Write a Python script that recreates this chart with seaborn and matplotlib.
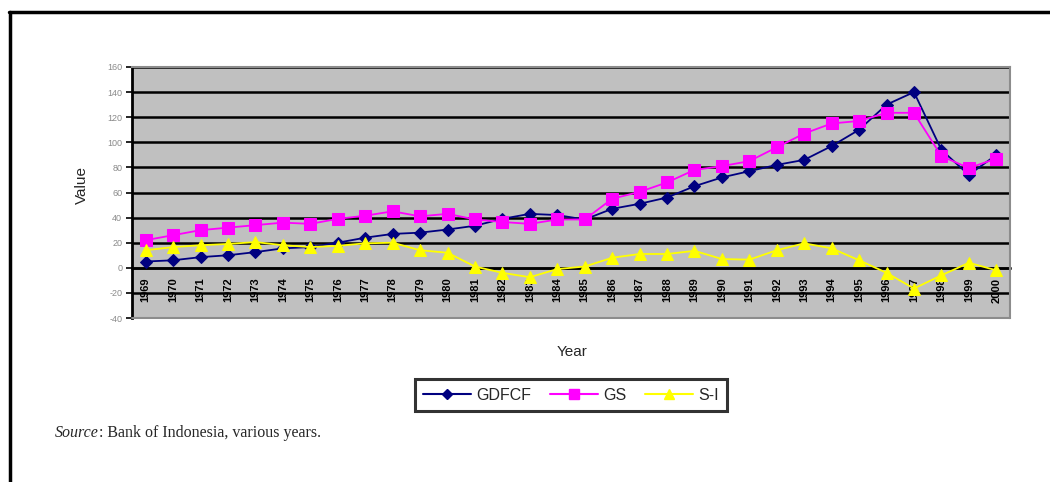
import matplotlib
matplotlib.use("Agg")
import matplotlib.pyplot as plt
from matplotlib.lines import Line2D
import numpy as np
import pandas as pd
import seaborn as sns

years = [str(y) for y in range(1969, 2001)]
gdfcf = [5, 6, 8.5, 10, 12.5, 15.5, 16.5, 20, 24, 27, 28, 30.5, 33.5, 39, 43, 42,
         38.5, 47, 51, 56, 65, 72, 77, 82, 86, 97, 110, 130, 140, 94, 74, 90]
gs = [22, 26, 30, 32, 34, 36, 35, 39, 41.5, 45, 41, 43, 38.5, 36.5, 35, 38.5,
      38.5, 55, 60.5, 68, 78, 81, 85, 96, 107, 115, 117, 123.5, 123.5, 89, 79.5, 87]
s_minus_i = [14, 16.5, 18, 19, 20.5, 18, 16.5, 17.5, 19.5, 20, 14, 12, 1, -4, -7.5, -1,
             1, 8, 11, 11, 13.5, 7, 6.5, 14, 19.5, 15.5, 6, -4, -16.5, -6, 4, -2]
series_names = ["GDFCF", "GS", "S-I"]
y_ticks = list(range(-40, 161, 20))

sns.set_theme(style="white")
plt.rcParams["font.family"] = ["Liberation Sans", "DejaVu Sans"]

pos = np.arange(len(years))
df = pd.DataFrame({
    "pos": np.tile(pos, 3),
    "value": gdfcf + gs + s_minus_i,
    "series": np.repeat(series_names, len(years)),
})

colors = {"GDFCF": "#000080", "GS": "#FF00FF", "S-I": "#FFFF00"}
markers = {"GDFCF": "D", "GS": "s", "S-I": "^"}
sizes = {"GDFCF": 6.5, "GS": 9, "S-I": 9}

fig = plt.figure(figsize=(10.5, 4.82), dpi=100)
ax = fig.add_axes([132 / 1050, 1 - 318 / 482, 878 / 1050, 251 / 482])
ax.set_facecolor("#C0C0C0")

for name in series_names:
    sub = df[df["series"] == name]
    sns.lineplot(data=sub, x="pos", y="value", ax=ax, color=colors[name],
                 marker=markers[name], markersize=sizes[name],
                 markeredgecolor=colors[name], linewidth=1.3, label=name,
                 legend=False, zorder=3)

ax.set_xlim(-0.5, len(years) - 0.5)
ax.set_ylim(-40, 160)
ax.set_yticks(y_ticks)
ax.set_yticklabels([str(v) for v in y_ticks], fontsize=6.5, color="#8a8a8a")
ax.yaxis.grid(True, color="black", linewidth=1.8, zorder=1)
ax.set_axisbelow(True)

# category labels centred, boundary ticks on the zero line
ax.spines["bottom"].set_position(("data", 0))
ax.set_xticks(pos)
ax.set_xticklabels(years, rotation=90, fontsize=8, fontweight="bold", color="black",
                   fontstretch="condensed")
ax.set_xticks(np.arange(-0.5, len(years), 1.0), minor=True)
ax.tick_params(axis="x", which="major", length=0, pad=7)
ax.tick_params(axis="x", which="minor", length=4, width=1.2, color="black", direction="out")
ax.tick_params(axis="y", which="major", length=4, width=1.2, color="black",
               direction="out", left=True, pad=3)
ax.spines["bottom"].set_color("black")
ax.spines["bottom"].set_linewidth(1.8)
ax.spines["bottom"].set_zorder(2)
ax.spines["left"].set_color("black")
ax.spines["left"].set_linewidth(2)
for side in ("top", "right"):
    ax.spines[side].set_color("#8c8c8c")
    ax.spines[side].set_linewidth(1.5)
ax.set_xlabel("")
ax.set_ylabel("")

# bottom edge of the plot area
ax.axhline(-40, color="#8c8c8c", linewidth=1.5, zorder=4, clip_on=False)

fig.text(82 / 1050, 1 - 185 / 482, "Value", rotation=90, fontsize=11,
         ha="center", va="center")
fig.text(572 / 1050, 1 - 352 / 482, "Year", fontsize=11, ha="center", va="center")

handles = [Line2D([], [], color=colors[n], marker=markers[n], markersize=sizes[n] * 0.75,
                  markeredgecolor=colors[n], linewidth=1.5) for n in series_names]
leg = fig.legend(handles, series_names, loc="center", ncol=3,
                 bbox_to_anchor=(571 / 1050, 1 - 395 / 482), frameon=True,
                 fancybox=False, edgecolor="black", fontsize=11.5,
                 handlelength=3.0, handletextpad=0.3, columnspacing=1.2,
                 borderpad=0.55, borderaxespad=0)
leg.get_frame().set_linewidth(2.2)

# source note: italic word followed by plain text
fig.canvas.draw()
renderer = fig.canvas.get_renderer()
src = fig.text(55 / 1050, 1 - 433 / 482, "Source", fontsize=11.5, style="italic",
               family="Liberation Serif", ha="left", va="center")
bb = src.get_window_extent(renderer=renderer)
fig.text(bb.x1 / fig.bbox.width, 1 - 433 / 482, ": Bank of Indonesia, various years.",
         fontsize=11.5, family="Liberation Serif", ha="left", va="center")

# outer frame: top and left edges
fig.add_artist(Line2D([9 / 1050, 1.0], [1 - 11.5 / 482, 1 - 11.5 / 482],
                      color="black", linewidth=2.5, transform=fig.transFigure))
fig.add_artist(Line2D([10 / 1050, 10 / 1050], [0, 1 - 11.5 / 482],
                      color="black", linewidth=2.5, transform=fig.transFigure))

fig.savefig("out.png", dpi=100)
